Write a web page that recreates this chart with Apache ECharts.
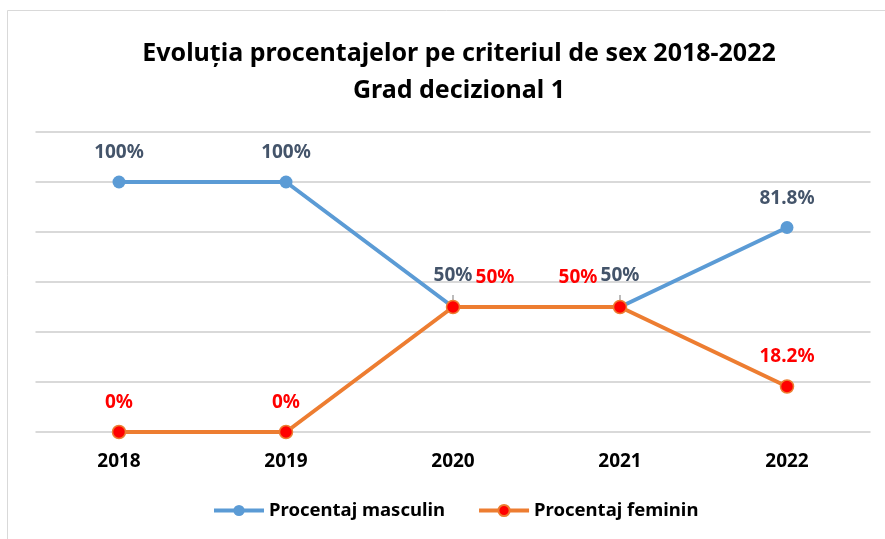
<!DOCTYPE html>
<html>
<head>
<meta charset="utf-8">
<script src="https://cdn.jsdelivr.net/npm/echarts@6/dist/echarts.min.js"></script>
<style>
  html, body { margin: 0; padding: 0; background: #fff; }
  #chart { width: 885px; height: 539px; }
</style>
</head>
<body>
<div id="chart"></div>
<script>
var years = ['2018', '2019', '2020', '2021', '2022'];
var masculin = [100, 100, 50, 50, 81.8];
var feminin = [0, 0, 50, 50, 18.2];
var labelsMasculin = ['100%', '100%', '50%', '50%', '81.8%'];
var labelsFeminin = ['0%', '0%', '50%', '50%', '18.2%'];

var FONT = 'Noto Sans';
var chart = echarts.init(document.getElementById('chart'));

// etichetele de la 2020 si 2021 se suprapun, le mutam lateral
var mData = masculin.map(function (v, i) {
    var item = { value: v };
    if (i === 2 || i === 3) {
        item.label = { distance: 15 };
        item.labelLine = { show: true };
    }
    return item;
});
var fData = feminin.map(function (v, i) {
    var item = { value: v };
    if (i === 2) item.label = { offset: [42, 0] };
    if (i === 3) item.label = { offset: [-42, 0] };
    return item;
});

var option = {
    backgroundColor: '#fff',
    title: {
        text: 'Evoluția procentajelor pe criteriul de sex 2018-2022\nGrad decizional 1',
        left: 454,
        textAlign: 'center',
        top: 30,
        textStyle: {
            fontFamily: FONT,
            fontWeight: 'bold',
            fontSize: 25,
            lineHeight: 37,
            color: '#000'
        }
    },
    graphic: [{
        type: 'rect',
        shape: { x: 7.5, y: 10.5, width: 1000, height: 1000 },
        style: { fill: 'none', stroke: '#d9d9d9', lineWidth: 1 },
        silent: true
    }],
    legend: {
        bottom: 14,
        left: 207,
        itemWidth: 50,
        itemHeight: 14,
        itemGap: 32,
        textStyle: { fontFamily: FONT, fontWeight: 'bold', fontSize: 18.5, color: '#000' },
        data: [
            { name: 'Procentaj masculin', lineStyle: { width: 4 } },
            { name: 'Procentaj feminin', lineStyle: { width: 4 } }
        ]
    },
    grid: { left: 35.5, right: 14.5, top: 132, bottom: 107, containLabel: false },
    xAxis: {
        type: 'category',
        data: years,
        axisLine: { show: false },
        axisTick: { show: false },
        axisLabel: {
            margin: 20,
            fontFamily: FONT,
            fontWeight: 'bold',
            fontSize: 19,
            color: '#000'
        }
    },
    yAxis: {
        type: 'value',
        min: 0,
        max: 120,
        interval: 20,
        axisLabel: { show: false },
        axisLine: { show: false },
        axisTick: { show: false },
        splitLine: { lineStyle: { color: '#d9d9d9', width: 2 } }
    },
    series: [{
        name: 'Procentaj masculin',
        type: 'line',
        data: mData,
        symbol: 'circle',
        symbolSize: 13,
        color: '#5b9bd5',
        lineStyle: { width: 4, color: '#5b9bd5' },
        itemStyle: { color: '#5b9bd5' },
        label: {
            show: true,
            position: 'top',
            distance: 13,
            fontFamily: FONT,
            fontWeight: 'bold',
            fontSize: 19,
            color: '#44546a',
            formatter: function (p) { return labelsMasculin[p.dataIndex]; }
        },
        labelLine: { show: false, lineStyle: { color: '#a6a6a6', width: 1.5 } },
        z: 3
    }, {
        name: 'Procentaj feminin',
        type: 'line',
        data: fData,
        symbol: 'circle',
        symbolSize: 13,
        color: '#ed7d31',
        lineStyle: { width: 4, color: '#ed7d31' },
        itemStyle: { color: '#ff0000', borderColor: '#ed7d31', borderWidth: 1.5 },
        label: {
            show: true,
            position: 'top',
            distance: 13,
            fontFamily: FONT,
            fontWeight: 'bold',
            fontSize: 19,
            color: '#ff0000',
            formatter: function (p) { return labelsFeminin[p.dataIndex]; }
        },
        z: 4
    }]
};

chart.setOption(option);
</script>
</body>
</html>
